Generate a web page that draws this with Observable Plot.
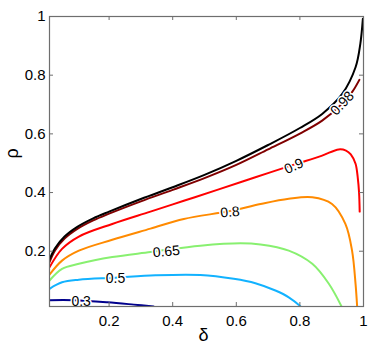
<!DOCTYPE html>
<html><head><meta charset="utf-8">
<script src="https://cdn.jsdelivr.net/npm/d3@7"></script>
<script src="https://cdn.jsdelivr.net/npm/@observablehq/plot@0.6"></script>
<style>html,body{margin:0;padding:0;background:#fff;}</style>
</head><body><div id="chart"></div>
<script>
// contour levels and their colours
const levels = [0.3, 0.5, 0.65, 0.8, 0.9, 0.98, 1];
const levelColors = ["#00008c", "#12b2ff", "#88f070", "#ff8a00", "#ff0000", "#800000", "#000000"];

// contour curves (δ, ρ)
const x030 = [0.0126, 0.089, 0.194, 0.278, 0.34];
const y030 = [0.033, 0.033, 0.026, 0.018, 0.0116];
const x050 = [0.0126, 0.052, 0.105, 0.22, 0.346, 0.487, 0.592, 0.66, 0.723, 0.765, 0.802];
const y050 = [0.072, 0.094, 0.103, 0.11, 0.118, 0.119, 0.106, 0.091, 0.066, 0.043, 0.0116];
const x065 = [0.0126, 0.052, 0.105, 0.21, 0.33, 0.38, 0.487, 0.613, 0.676, 0.765, 0.839, 0.891, 0.931];
const y065 = [0.1, 0.14, 0.157, 0.18, 0.197, 0.205, 0.219, 0.227, 0.223, 0.202, 0.157, 0.089, 0.0116];
const x080 = [0.0126, 0.052, 0.105, 0.21, 0.33, 0.435, 0.58, 0.676, 0.765, 0.839, 0.901, 0.943, 0.964, 0.975, 0.98];
const y080 = [0.12, 0.168, 0.202, 0.239, 0.277, 0.31, 0.337, 0.361, 0.379, 0.384, 0.361, 0.293, 0.202, 0.089, 0.0116];
const x090 = [0.0126, 0.052, 0.105, 0.21, 0.33, 0.435, 0.54, 0.66, 0.781, 0.87, 0.922, 0.945, 0.96, 0.975, 0.982, 0.986, 0.988];
const y090 = [0.145, 0.208, 0.25, 0.293, 0.335, 0.372, 0.409, 0.452, 0.495, 0.526, 0.547, 0.543, 0.53, 0.498, 0.45, 0.40, 0.335];
const x098 = [0.0126, 0.03, 0.06, 0.1, 0.15, 0.2, 0.3, 0.4, 0.5, 0.6, 0.7, 0.8, 0.87, 0.933, 0.964, 0.987];
const y098 = [0.163, 0.203, 0.243, 0.276, 0.305, 0.328, 0.37, 0.409, 0.449, 0.494, 0.547, 0.601, 0.645, 0.703, 0.742, 0.784];
const x100 = [0.0126, 0.03, 0.06, 0.1, 0.15, 0.2, 0.3, 0.4, 0.5, 0.6, 0.7, 0.8, 0.87, 0.933, 0.975, 0.99, 0.998];
const y100 = [0.172, 0.21, 0.25, 0.283, 0.312, 0.335, 0.378, 0.418, 0.46, 0.508, 0.562, 0.62, 0.668, 0.736, 0.827, 0.907, 0.992];

// contour labels
const labelText = ["0.3", "0.5", "0.65", "0.8", "0.9", "0.98"];
const labelX = [0.112, 0.22, 0.38, 0.58, 0.781, 0.933];
const labelY = [0.029, 0.106, 0.199, 0.333, 0.49, 0.704];
const labelAngle = [0, 0, -5, -5, -25, -47];

// axes
const xTicks = [0.2, 0.4, 0.6, 0.8, 1];
const yTicks = [0.2, 0.4, 0.6, 0.8, 1];
const xLabel = "δ";
const yLabel = "ρ";

const xsAll = [x030, x050, x065, x080, x090, x098, x100];
const ysAll = [y030, y050, y065, y080, y090, y098, y100];
const lineData = xsAll.flatMap((xs, k) => xs.map((x, i) => ({x, y: ysAll[k][i], level: levels[k], color: levelColors[k]})));
const labelData = labelText.map((t, i) => ({text: t, x: labelX[i], y: labelY[i], angle: labelAngle[i]}));

const W = 376, H = 354, mL = 49, mR = 13, mT = 16, mB = 48;
const xDom = [0.0126, 1], yDom = [0.0116, 1];
const tickPx = 4;
const tx = tickPx * (xDom[1] - xDom[0]) / (W - mL - mR);
const ty = tickPx * (yDom[1] - yDom[0]) / (H - mT - mB);
const gray = "#6e6e6e";
const font = "'Liberation Sans', Arial, Helvetica, sans-serif";
const fmt = d => String(d);

const chart = Plot.plot({
  width: W, height: H,
  marginLeft: mL, marginRight: mR, marginTop: mT, marginBottom: mB,
  style: {fontFamily: font, fontSize: "15px", background: "white", color: "black"},
  x: {domain: xDom},
  y: {domain: yDom},
  marks: [
    Plot.line(lineData, {x: "x", y: "y", z: "level", stroke: "color", strokeWidth: 2, curve: "catmull-rom", clip: true}),
    Plot.text(labelData, {x: "x", y: "y", text: "text", rotate: "angle", fontSize: 14, fill: "black", stroke: "white", strokeWidth: 3, paintOrder: "stroke"}),
    Plot.frame({stroke: gray, strokeWidth: 1.2}),
    Plot.ruleX(xTicks, {x: d => d, y1: yDom[0], y2: yDom[0] + ty, stroke: gray}),
    Plot.ruleX(xTicks, {x: d => d, y1: yDom[1] - ty, y2: yDom[1], stroke: gray}),
    Plot.ruleY(yTicks, {y: d => d, x1: xDom[0], x2: xDom[0] + tx, stroke: gray}),
    Plot.ruleY(yTicks, {y: d => d, x1: xDom[1] - tx, x2: xDom[1], stroke: gray}),
    Plot.axisX(xTicks, {tickSize: 0, tickPadding: 9, fontSize: 15, label: null, tickFormat: fmt}),
    Plot.axisY(yTicks, {tickSize: 0, tickPadding: 4, fontSize: 15, label: null, tickFormat: fmt}),
    Plot.text([xLabel], {frameAnchor: "bottom", dy: 34, dx: -3, fontSize: 18, text: d => d}),
    Plot.text([yLabel], {frameAnchor: "left", dx: -37, dy: -3, rotate: -90, fontSize: 18, text: d => d})
  ]
});
document.getElementById("chart").appendChild(chart);
</script>
</body></html>
